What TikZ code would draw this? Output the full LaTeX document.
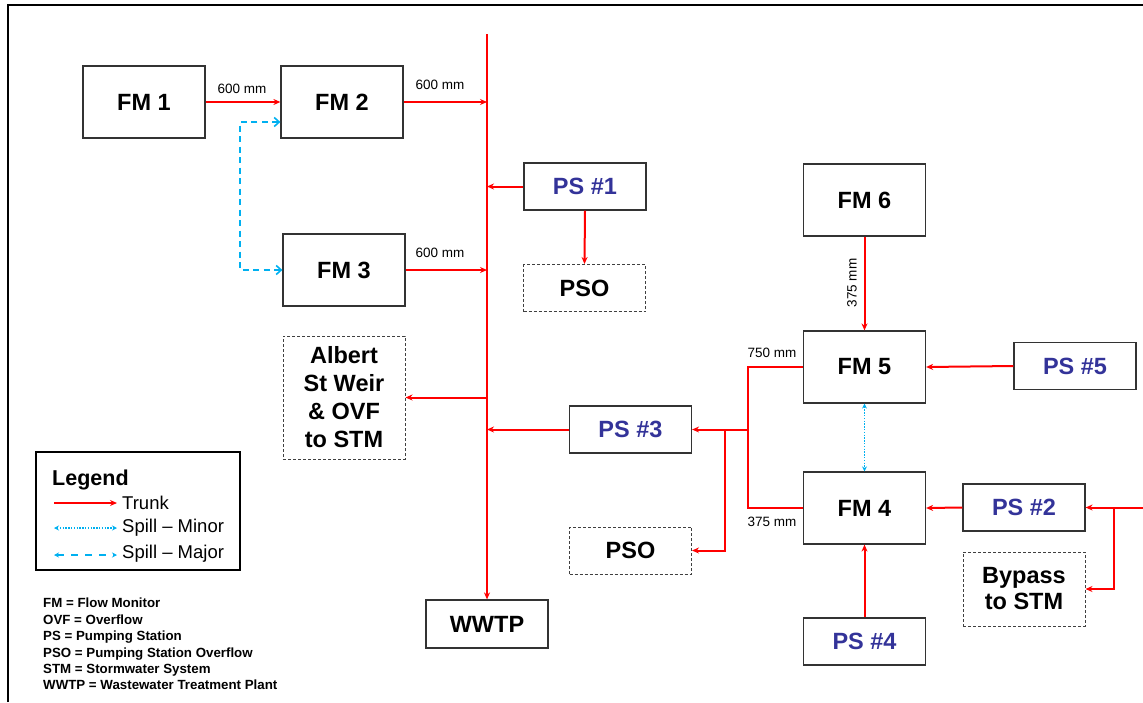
\documentclass[tikz,border=0pt]{standalone}
\usepackage{fontspec}
\setmainfont{Liberation Sans}
\usetikzlibrary{arrows.meta}
\definecolor{trunkred}{HTML}{FF0000}
\definecolor{spillblue}{HTML}{00B0F0}
\definecolor{psblue}{HTML}{333399}
\definecolor{boxgray}{HTML}{333333}
\tikzset{
  box/.style={draw=boxgray, line width=1.2pt, inner sep=0pt, minimum width=122pt,
    font=\fontsize{23.5}{27}\selectfont\bfseries},
  fmbox/.style={box, minimum height=72pt},
  psbox/.style={box, minimum height=47pt, text=psblue},
  dbox/.style={box, draw=black!75, line width=1pt, dash pattern=on 3pt off 2pt, align=center},
  trunk/.style={draw=trunkred, line width=2pt},
  tarrow/.style={trunk, -{Stealth[length=7pt,width=6pt]}},
  major/.style={draw=spillblue, line width=1.6pt, dash pattern=on 6pt off 4.5pt},
  minor/.style={draw=spillblue, line width=1.8pt, dash pattern=on 1.4pt off 1.4pt},
  lbl/.style={font=\fontsize{13.5}{16}\selectfont, inner sep=0pt},
  legtxt/.style={font=\fontsize{18.5}{22}\selectfont, anchor=west, inner sep=0pt},
}
\begin{document}
\begin{tikzpicture}[x=1pt,y=-1pt]
\useasboundingbox (0,0) rectangle (1143,702);
% frame
\draw[line width=2.5pt] (8,702) -- (8,5) -- (1143,5);

% nodes
\node[fmbox] (FM1) at (144,102) {FM 1};
\node[fmbox] (FM2) at (342,102) {FM 2};
\node[fmbox] (FM3) at (344,270) {FM 3};
\node[psbox] (PS1) at (585,186.5) {PS \#1};
\node[dbox, minimum height=47pt] (PSO1) at (584.5,288) {PSO};
\node[fmbox] (FM6) at (864.5,200) {FM 6};
\node[fmbox] (FM5) at (864.5,367) {FM 5};
\node[psbox] (PS5) at (1075,366) {PS \#5};
\node[fmbox] (FM4) at (864.5,508) {FM 4};
\node[psbox] (PS2) at (1024,507.5) {PS \#2};
\node[dbox, minimum height=74pt, font=\fontsize{23.5}{26}\selectfont\bfseries] (BYP) at (1024,589) {Bypass\\to STM};
\node[psbox] (PS4) at (864.5,641.5) {PS \#4};
\node[psbox] (PS3) at (630.5,429.5) {PS \#3};
\node[dbox, minimum height=47pt] (PSO2) at (630.5,550.5) {PSO};
\node[dbox, minimum height=123pt, font=\fontsize{23.5}{28}\selectfont\bfseries] (ALB) at (344,397.5) {Albert\\St Weir\\\& OVF\\to STM};
\node[box, minimum height=48pt, text=black] (WWTP) at (487,624) {WWTP};

% trunk
\coordinate (ttop) at (487,34);
\draw[tarrow] (ttop) -- (WWTP.north);

% connectors
\draw[tarrow] (FM1.east) -- (FM2.west);
\draw[tarrow] (FM2.east) -- (FM2.east -| ttop);
\draw[tarrow] (FM3.east) -- (FM3.east -| ttop);
\draw[tarrow] (PS1.west) -- (PS1.west -| ttop);
\draw[tarrow] (PS1.south) -- (PSO1.north);
\draw[tarrow] (PS3.west) -- (PS3.west -| ttop);
\draw[tarrow] (ALB.east -| ttop) -- (ALB.east);
\draw[tarrow] (FM6.south) -- (FM5.north);
\draw[tarrow] (PS5.west) -- (FM5.east);
\draw[tarrow] (PS2.west) -- (FM4.east);
\draw[tarrow] (PS4.north) -- (FM4.south);
\draw[minor, {Stealth[length=5pt,width=5pt]}-{Stealth[length=5pt,width=5pt]}] (FM5.south) -- (FM4.north);
\coordinate (mj) at (240,122);
\draw[major, {Straight Barb[length=5pt,width=9pt]}-{Straight Barb[length=5pt,width=9pt]}]
  (mj -| FM2.west) -- (mj) |- (FM3.west);

% FM5 / FM4 to PS3 and PSO
\coordinate (j1) at (748,429.5);
\coordinate (j2) at (725,429.5);
\draw[trunk] (FM5.west) -- (FM5.west -| j1) -- (FM4.west -| j1) -- (FM4.west);
\draw[tarrow] (j1) -- (PS3.east);
\draw[tarrow] (j2) |- (PSO2.east);

% incoming from right to PS2 and bypass
\coordinate (inR) at (1143,507.5);
\coordinate (j3) at (1114,507.5);
\draw[tarrow] (inR) -- (PS2.east);
\draw[tarrow] (j3) |- (BYP.east);

% pipe size labels
\node[lbl] (l1) at (242,89) {600 mm};
\node[lbl] (l2) at (440,85) {600 mm};
\node[lbl] (l3) at (440,253) {600 mm};
\node[lbl, rotate=90] (l4) at (852,283) {375 mm};
\node[lbl] (l5) at (772,353) {750 mm};
\node[lbl] (l6) at (772,522) {375 mm};

% legend
\node[draw=black, line width=2.5pt, minimum width=204pt, minimum height=118pt, inner sep=0pt] (LEG) at (138,511) {};
\node[anchor=west, inner sep=0pt, font=\fontsize{21.5}{25}\selectfont\bfseries] (LEGT) at (52,480) {Legend};
\coordinate (a1) at (54,503);
\coordinate (b1) at (117,503);
\coordinate (a2) at (54,528);
\coordinate (b2) at (117,528);
\coordinate (a3) at (54,555);
\coordinate (b3) at (117,555);
\draw[tarrow, line width=1.6pt] (a1) -- (b1);
\draw[minor, line width=1.4pt, {Stealth[length=5pt,width=5pt]}-{Stealth[length=5pt,width=5pt]}] (a2) -- (b2);
\draw[major, line width=1.4pt, dash pattern=on 7pt off 7pt, {Stealth[length=5pt,width=5pt]}-{Stealth[length=5pt,width=5pt]}] (a3) -- (b3);
\node[legtxt] (t1) at (122,503) {Trunk};
\node[legtxt] (t2) at (122,528) {Spill -- Minor};
\node[legtxt] (t3) at (122,554) {Spill -- Major};

% abbreviations
\node[anchor=north west, inner sep=0pt, align=left, font=\fontsize{13.3}{16.4}\selectfont\bfseries] (ABB) at (43,598)
  {FM = Flow Monitor\\OVF = Overflow\\PS = Pumping Station\\PSO = Pumping Station Overflow\\STM = Stormwater System\\WWTP = Wastewater Treatment Plant};
\end{tikzpicture}
\end{document}
